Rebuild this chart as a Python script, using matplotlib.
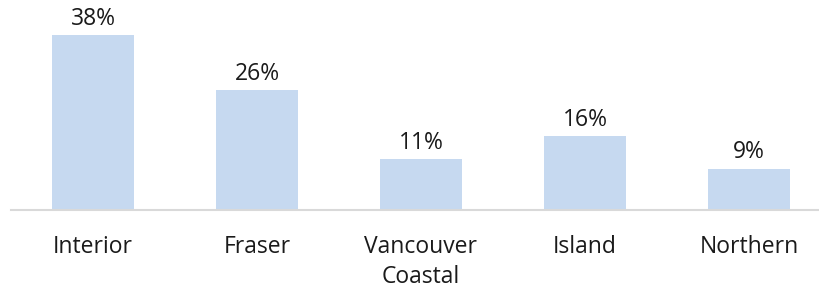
import matplotlib.pyplot as plt

plt.rcParams['font.family'] = ['Open Sans', 'DejaVu Sans']

regions = ["Interior", "Fraser", "Vancouver\nCoastal", "Island", "Northern"]
shares = [38, 26, 11, 16, 9]

fig = plt.figure(figsize=(8.19, 2.9), dpi=100)
ax = fig.add_axes([11 / 819, 80 / 290, 808 / 819, 207 / 290])

x = range(len(regions))
bars = ax.bar(x, shares, width=0.5, color="#C6D9F0")

for xi, v in zip(x, shares):
    ax.annotate(f"{v}%", (xi, v), xytext=(0, 3), textcoords="offset points",
                ha="center", va="bottom", fontsize=16.5, color="#1a1a1a")

ax.set_xlim(-0.5, 4.427)
ax.set_ylim(0, 45)
ax.set_xticks(list(x))
ax.set_xticklabels(regions, fontsize=16.5, color="#1a1a1a", linespacing=1.32)
ax.tick_params(axis="x", length=0, pad=18)
ax.set_yticks([])
for s in ["top", "left", "right"]:
    ax.spines[s].set_visible(False)
ax.spines["bottom"].set_color("#D9D9D9")
ax.spines["bottom"].set_linewidth(1.5)

fig.savefig("out.png", dpi=100)
